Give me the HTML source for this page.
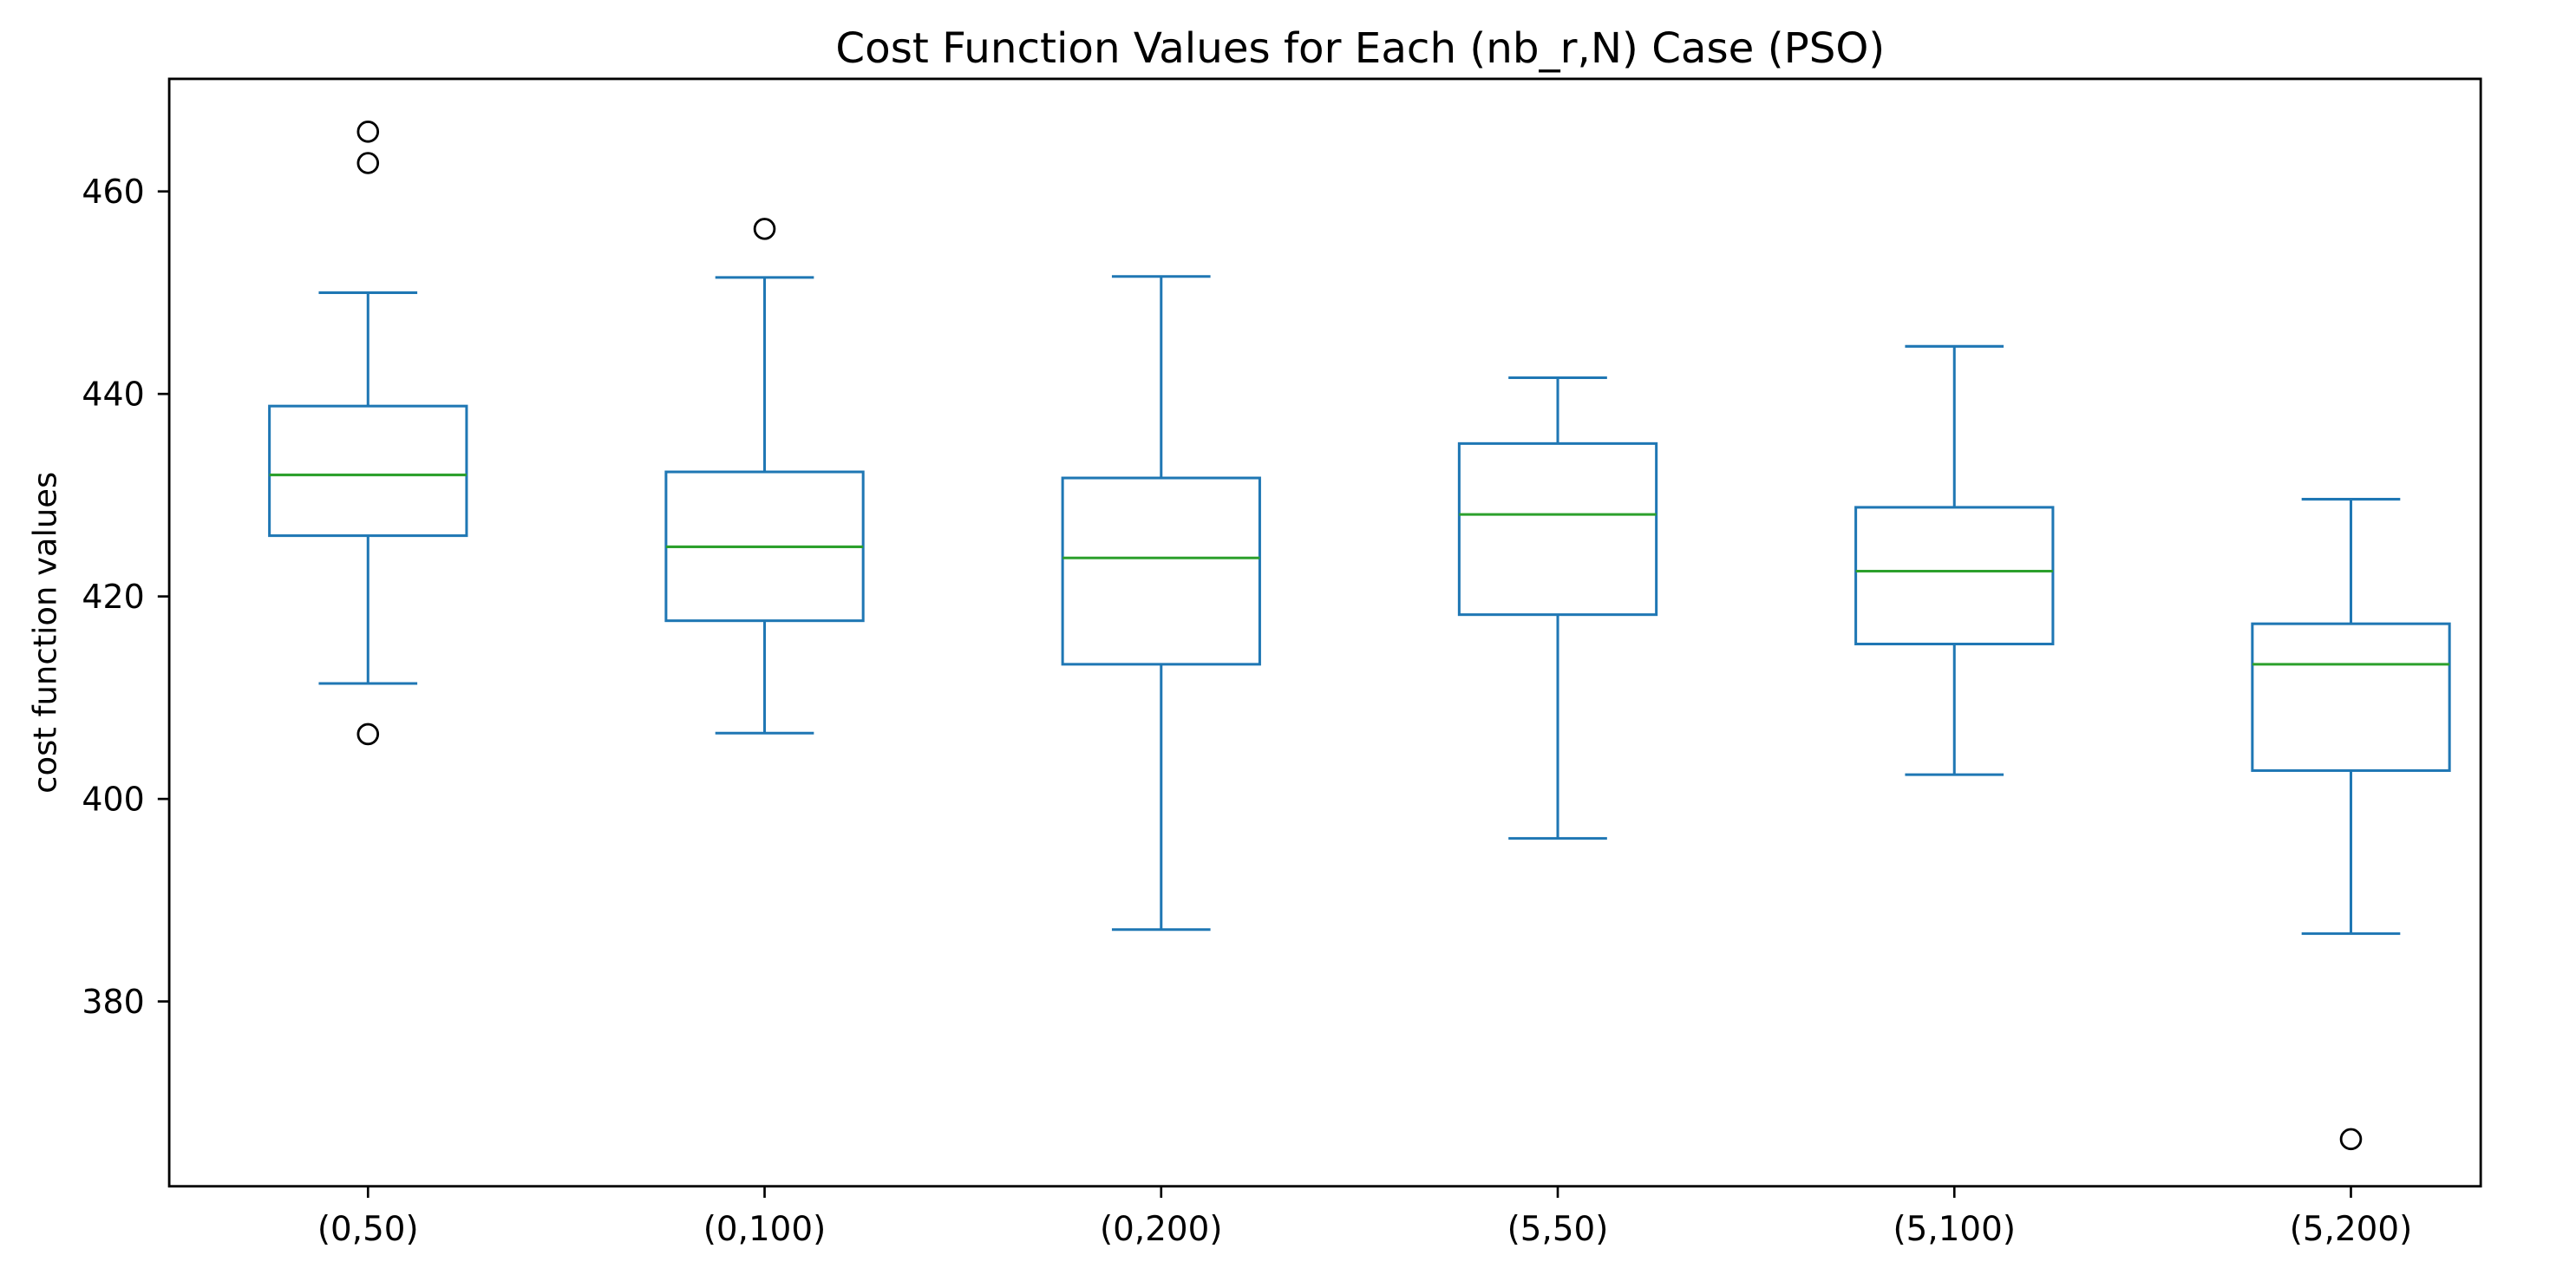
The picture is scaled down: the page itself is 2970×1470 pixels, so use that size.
<!DOCTYPE html>
<html><head><meta charset="utf-8"><style>
html,body{margin:0;padding:0;background:#fff;}
svg{display:block;font-family:"DejaVu Sans","Liberation Sans",sans-serif;}
</style></head><body>
<svg id="chart" width="2970" height="1470" viewBox="0 0 1568 776" preserveAspectRatio="none">
<text x="828" y="38" text-anchor="middle" font-size="25.5" fill="#000">Cost Function Values for Each (nb_r,N) Case (PSO)</text>
<text transform="translate(34,385) rotate(-90)" text-anchor="middle" font-size="19.5" fill="#000">cost function values</text>
<g id="marks"></g>
<rect x="103" y="48" width="1407" height="674" fill="none" stroke="#000" stroke-width="1.5"/>
</svg>
<script>
const categories = ["(0,50)","(0,100)","(0,200)","(5,50)","(5,100)","(5,200)"];
const whiskerLow = [411.4,406.5,387.1,396.1,402.4,386.7];
const q1 = [426.0,417.6,413.3,418.2,415.3,402.8];
const median = [432.0,424.9,423.8,428.1,422.5,413.3];
const q3 = [438.8,432.3,431.7,435.1,428.8,417.3];
const whiskerHigh = [450.0,451.5,451.6,441.6,444.7,429.6];
const fliers = [[465.9,462.8,406.4],[456.3],[],[],[],[366.4]];
const yTicks = [380,400,420,440,460];

const NS = "http://www.w3.org/2000/svg";
const g = document.getElementById('marks');
function y(v){ return 116.5 + (460 - v) * 6.1625; }
function x(i){ return 224 + i * 241.4; }
function el(tag, attrs){ const e=document.createElementNS(NS,tag); for(const k in attrs) e.setAttribute(k,attrs[k]); g.appendChild(e); return e; }
const blue="#1f77b4", green="#2ca02c", hw=60, cw=30, lw=1.6;

yTicks.forEach(t=>{
  const tk = el('line',{x1:96,x2:103,y1:y(t),y2:y(t),stroke:'#000','stroke-width':1.4});
  
  
  const lb = el('text',{x:88,y:y(t)+7,'text-anchor':'end','font-size':20,fill:'#000'});
  lb.textContent = t;
  
  
});

categories.forEach((c,i)=>{
  const cx = x(i);
  const tk = el('line',{x1:cx,x2:cx,y1:722,y2:729,stroke:'#000','stroke-width':1.4});
  
  
  const lb = el('text',{x:cx,y:755,'text-anchor':'middle','font-size':20.5,fill:'#000'});
  lb.textContent = c;
  
  

  const w1 = el('line',{x1:cx,x2:cx,y1:y(q3[i]),y2:y(whiskerHigh[i]),stroke:blue,'stroke-width':lw});
  
  
  const w2 = el('line',{x1:cx,x2:cx,y1:y(q1[i]),y2:y(whiskerLow[i]),stroke:blue,'stroke-width':lw});
  
  
  const c1 = el('line',{x1:cx-cw,x2:cx+cw,y1:y(whiskerHigh[i]),y2:y(whiskerHigh[i]),stroke:blue,'stroke-width':lw});
  
  
  const c2 = el('line',{x1:cx-cw,x2:cx+cw,y1:y(whiskerLow[i]),y2:y(whiskerLow[i]),stroke:blue,'stroke-width':lw});
  
  
  const bx = el('rect',{x:cx-hw,y:y(q3[i]),width:2*hw,height:y(q1[i])-y(q3[i]),fill:'none',stroke:blue,'stroke-width':lw});
  
  
  const md = el('line',{x1:cx-hw,x2:cx+hw,y1:y(median[i]),y2:y(median[i]),stroke:green,'stroke-width':lw});
  
  
  fliers[i].forEach(f=>{
    const o = el('ellipse',{cx:cx,cy:y(f),rx:6,ry:6,fill:'none',stroke:'#000','stroke-width':1.5});
    
    
  });
});
</script>
</body></html>
